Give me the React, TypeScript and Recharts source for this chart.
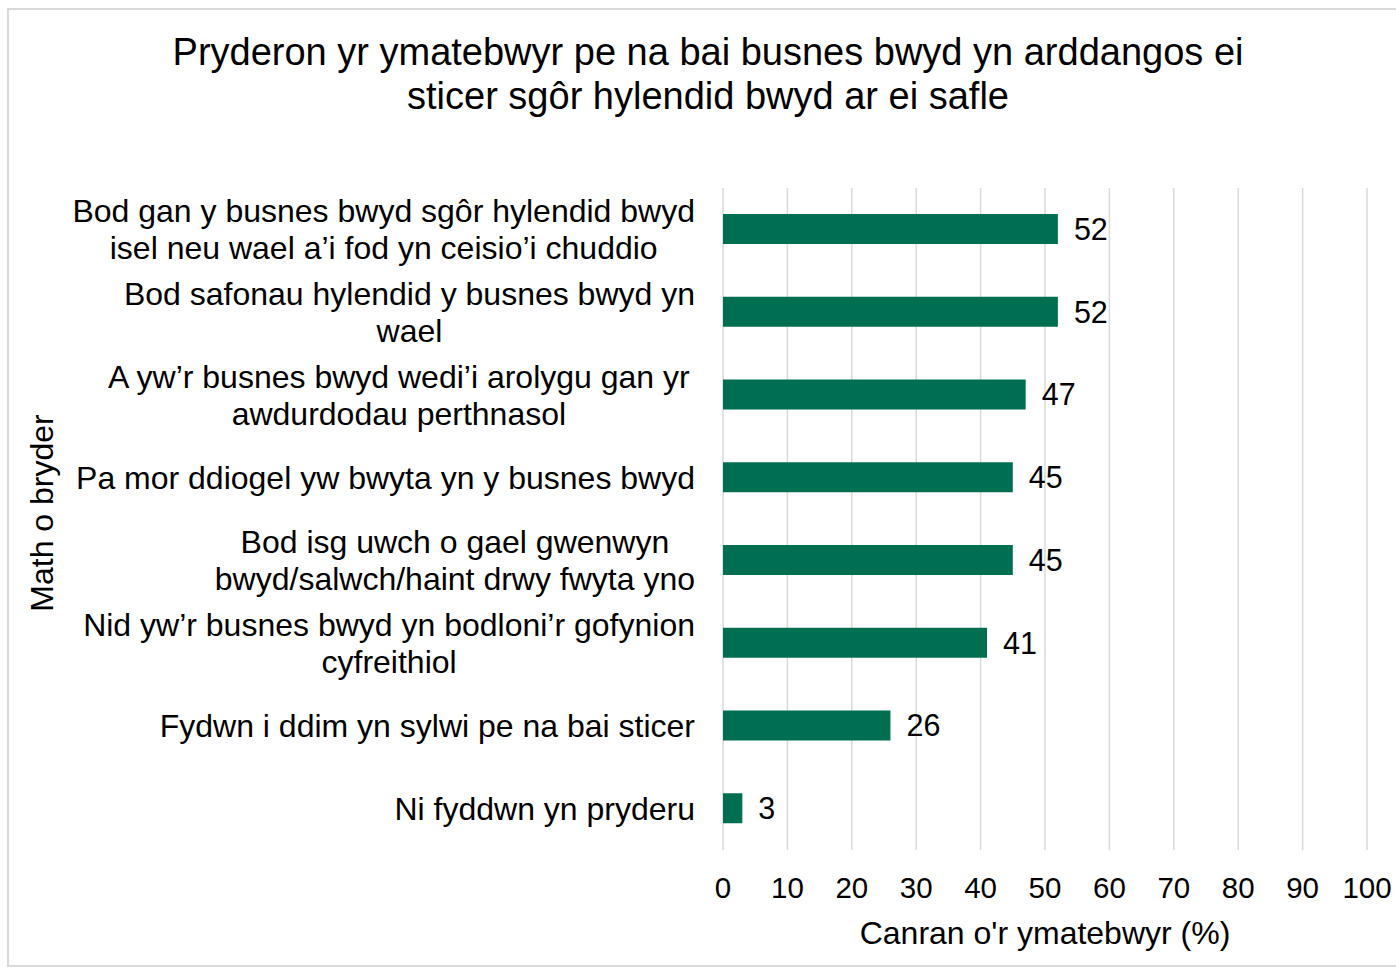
import { BarChart, Bar, XAxis, YAxis, CartesianGrid, LabelList } from "recharts"

const FONT = "'Liberation Sans', Arial, sans-serif"

const titleLines = [
    "Pryderon yr ymatebwyr pe na bai busnes bwyd yn arddangos ei",
    "sticer sgôr hylendid bwyd ar ei safle",
]

const categoryLines: string[][] = [
    ["Bod gan y busnes bwyd sgôr hylendid bwyd", "isel neu wael a’i fod yn ceisio’i chuddio"],
    ["Bod safonau hylendid y busnes bwyd yn", "wael"],
    ["A yw’r busnes bwyd wedi’i arolygu gan yr ", "awdurdodau perthnasol"],
    ["Pa mor ddiogel yw bwyta yn y busnes bwyd"],
    ["Bod isg uwch o gael gwenwyn", "bwyd/salwch/haint drwy fwyta yno"],
    ["Nid yw’r busnes bwyd yn bodloni’r gofynion", "cyfreithiol"],
    ["Fydwn i ddim yn sylwi pe na bai sticer"],
    ["Ni fyddwn yn pryderu"],
]

const categories = categoryLines.map((l) => l.map((s) => s.trim()).join(" "))
const values = [52, 52, 47, 45, 45, 41, 26, 3]
const xTicks = [0, 10, 20, 30, 40, 50, 60, 70, 80, 90, 100]

const data = categories.map((name, i) => ({ name, value: values[i] }))

let ctx: CanvasRenderingContext2D | null = null
function measure(text: string, size: number) {
    if (!ctx) ctx = document.createElement("canvas").getContext("2d")
    if (!ctx) return text.length * size * 0.5
    ctx.font = `${size}px 'Liberation Sans', Arial, sans-serif`
    return ctx.measureText(text).width
}

function CategoryTick({ x, y, payload }: any) {
    const idx = categories.indexOf(payload.value)
    const lines = categoryLines[idx] || [payload.value]
    const size = 32
    const blockW = Math.max(...lines.map((l) => measure(l, size)))
    const right = x - 28
    const cx = right - blockW / 2
    const lh = 37
    const y0 = y - ((lines.length - 1) * lh) / 2
    return (
        <g>
            {lines.map((l, i) => (
                <text key={i} x={cx} y={y0 + i * lh} dy="0.35em" textAnchor="middle"
                    fontSize={size} fontFamily={FONT} fill="#000">
                    {l.trim()}
                </text>
            ))}
        </g>
    )
}

function ValueTick({ x, y, payload }: any) {
    return (
        <text x={x} y={y + 38} dy="0.35em" textAnchor="middle" fontSize={29.5} fontFamily={FONT} fill="#000">
            {payload.value}
        </text>
    )
}

export default function App() {
    return (
        <div style={{ position: "absolute", left: 0, top: 0, width: 1396, height: 970, overflow: "hidden", background: "#fff" }}>
            <div style={{
                position: "absolute", left: 7, top: 8, width: 1400, height: 959,
                border: "2px solid #d9d9d9", boxSizing: "border-box"
            }} />
            <div style={{
                position: "absolute", left: 0, top: 30, width: 1416, textAlign: "center",
                fontFamily: FONT, fontSize: 38, lineHeight: "44px", color: "#000"
            }}>
                {titleLines.map((t, i) => <div key={i}>{t}</div>)}
            </div>
            <div style={{ position: "absolute", left: 0, top: 0 }}>
                <BarChart width={1396} height={970} data={data} layout="vertical"
                    margin={{ top: 188, right: 29, left: 0, bottom: 30 }}>
                    <CartesianGrid horizontal={false} vertical stroke="#d9d9d9" strokeWidth={1.5} />
                    <XAxis type="number" domain={[0, 100]} ticks={xTicks} height={90}
                        axisLine={false} tickLine={false} tickSize={0} tickMargin={0}
                        tick={<ValueTick />}
                        label={(p: any) => {
                            const vb = p.viewBox
                            return (
                                <text x={vb.x + vb.width / 2} y={vb.y + 83} dy="0.35em" textAnchor="middle"
                                    fontSize={32} fontFamily={FONT} fill="#000">
                                    Canran o'r ymatebwyr (%)
                                </text>
                            )
                        }}
                    />
                    <YAxis type="category" dataKey="name" width={723}
                        axisLine={false} tickLine={false} tickSize={0} tickMargin={0}
                        tick={<CategoryTick />}
                        label={() => (
                            <text x={42} y={513} dy="0.35em" textAnchor="middle" transform="rotate(-90 42 513)"
                                fontSize={32} fontFamily={FONT} fill="#000">
                                Math o bryder
                            </text>
                        )}
                    />
                    <Bar dataKey="value" fill="#006F51" barSize={30} isAnimationActive={false}>
                        <LabelList dataKey="value" position="right" offset={16}
                            style={{ fontSize: 30.5, fontFamily: FONT, fill: "#000" }} />
                    </Bar>
                </BarChart>
            </div>
        </div>
    )
}
